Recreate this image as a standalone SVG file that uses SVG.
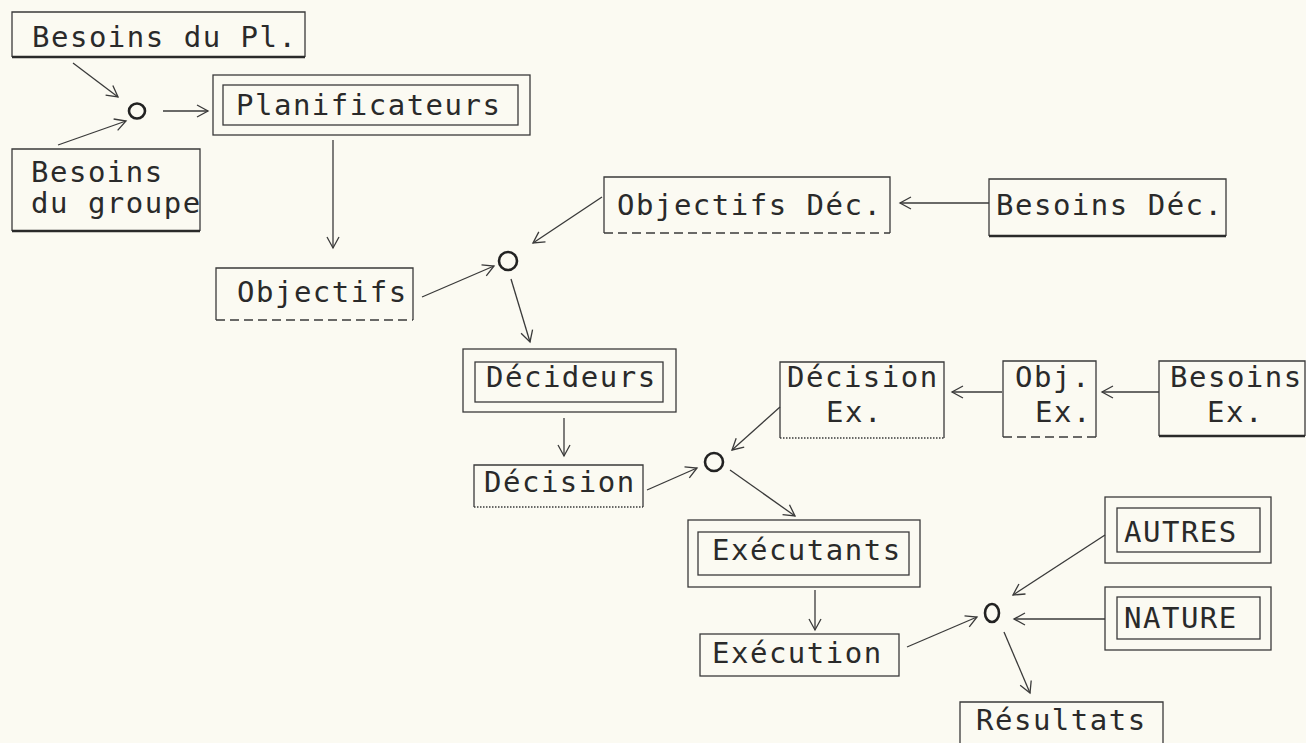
<svg xmlns="http://www.w3.org/2000/svg" width="1306" height="743" viewBox="0 0 1306 743">
<defs>
<style>
.bg{fill:#fbfaf2}
.b{fill:none;stroke:#3a3a3a;stroke-width:1.3}
.thick{fill:none;stroke:#2a2a2a;stroke-width:2.6}
.dash{fill:none;stroke:#3a3a3a;stroke-width:1.4;stroke-dasharray:9 5}
.dot{fill:none;stroke:#3a3a3a;stroke-width:1.6;stroke-dasharray:1.5 1.5}
.t{font-family:"DejaVu Sans Mono","Liberation Mono",monospace;font-size:29px;letter-spacing:1.5px;fill:#2a2a2a}
.c{fill:none;stroke:#222;stroke-width:2.6}
.a{fill:none;stroke:#3a3a3a;stroke-width:1.3;marker-end:url(#ah)}
</style>
<marker id="ah" markerUnits="userSpaceOnUse" markerWidth="14" markerHeight="14" refX="12" refY="7" orient="auto">
<path d="M1,1 L12,7 L1,13" fill="none" stroke="#3a3a3a" stroke-width="1.3"/>
</marker>
</defs>
<rect class="bg" x="0" y="0" width="1306" height="743"/>

<g id="connectors">
<line class="a" x1="73" y1="63" x2="118" y2="97"/>
<line class="a" x1="58" y1="145" x2="126" y2="121"/>
<line class="a" x1="163" y1="111" x2="208" y2="111"/>
<line class="a" x1="333" y1="140" x2="333" y2="248"/>
<line class="a" x1="422" y1="297" x2="494" y2="266"/>
<line class="a" x1="602" y1="197" x2="533" y2="243"/>
<line class="a" x1="989" y1="203" x2="900" y2="203"/>
<line class="a" x1="511" y1="279" x2="530" y2="342"/>
<line class="a" x1="564" y1="418" x2="564" y2="456"/>
<line class="a" x1="647" y1="490" x2="697" y2="468"/>
<line class="a" x1="780" y1="407" x2="732" y2="450"/>
<line class="a" x1="1002" y1="392" x2="952" y2="392"/>
<line class="a" x1="1159" y1="392" x2="1102" y2="392"/>
<line class="a" x1="730" y1="470" x2="795" y2="516"/>
<line class="a" x1="815" y1="590" x2="815" y2="630"/>
<line class="a" x1="907" y1="647" x2="977" y2="617"/>
<line class="a" x1="1105" y1="535" x2="1013" y2="595"/>
<line class="a" x1="1105" y1="619" x2="1014" y2="619"/>
<line class="a" x1="1004" y1="632" x2="1030" y2="693"/>
</g>

<g id="j1"><ellipse class="c" cx="137" cy="111" rx="8" ry="7.5"/></g>
<g id="j2"><ellipse class="c" cx="508" cy="261" rx="9" ry="9"/></g>
<g id="j3"><ellipse class="c" cx="714" cy="462" rx="9" ry="9"/></g>
<g id="j4"><ellipse class="c" cx="992" cy="613" rx="7" ry="9"/></g>

<g id="besoins-pl">
<path class="b" d="M12,57 V12 H305 V57"/>
<line class="thick" x1="12" y1="57" x2="305" y2="57"/>
<text class="t" x="32" y="47">Besoins du Pl.</text>
</g>

<g id="besoins-groupe">
<path class="b" d="M12,231 V149 H200 V231"/>
<line class="thick" x1="12" y1="231" x2="200" y2="231"/>
<text class="t" x="31" y="182">Besoins</text>
<text class="t" x="31" y="213">du groupe</text>
</g>

<g id="planificateurs">
<rect class="b" x="213" y="75" width="317" height="60"/>
<rect class="b" x="223" y="85" width="295" height="40"/>
<text class="t" x="236" y="115">Planificateurs</text>
</g>

<g id="objectifs-dec">
<path class="b" d="M604,233 V177 H890 V233"/>
<line class="dash" x1="604" y1="233" x2="890" y2="233"/>
<text class="t" x="617" y="215">Objectifs Déc.</text>
</g>

<g id="besoins-dec">
<path class="b" d="M989,236 V179 H1226 V236"/>
<line class="thick" x1="989" y1="236" x2="1226" y2="236"/>
<text class="t" x="996" y="215">Besoins Déc.</text>
</g>

<g id="objectifs">
<path class="b" d="M216,320 V268 H413 V320"/>
<line class="dash" x1="216" y1="320" x2="413" y2="320"/>
<text class="t" x="237" y="302">Objectifs</text>
</g>

<g id="decideurs">
<rect class="b" x="463" y="349" width="213" height="63"/>
<rect class="b" x="475" y="362" width="188" height="40"/>
<text class="t" x="486" y="387">Décideurs</text>
</g>

<g id="decision">
<path class="b" d="M474,507 V465 H643 V507"/>
<line class="dot" x1="474" y1="507" x2="643" y2="507"/>
<text class="t" x="484" y="492">Décision</text>
</g>

<g id="decision-ex">
<path class="b" d="M780,438 V362 H944 V438"/>
<line class="dot" x1="780" y1="438" x2="944" y2="438"/>
<text class="t" x="787" y="387">Décision</text>
<text class="t" x="826" y="422">Ex.</text>
</g>

<g id="obj-ex">
<path class="b" d="M1003,437 V361 H1096 V437"/>
<line class="dash" x1="1003" y1="437" x2="1096" y2="437"/>
<text class="t" x="1015" y="387">Obj.</text>
<text class="t" x="1035" y="422">Ex.</text>
</g>

<g id="besoins-ex">
<path class="b" d="M1159,436 V361 H1305 V436"/>
<line class="thick" x1="1159" y1="436" x2="1305" y2="436"/>
<text class="t" x="1170" y="387">Besoins</text>
<text class="t" x="1207" y="422">Ex.</text>
</g>

<g id="executants">
<rect class="b" x="688" y="520" width="232" height="67"/>
<rect class="b" x="698" y="532" width="211" height="43"/>
<text class="t" x="712" y="560">Exécutants</text>
</g>

<g id="execution">
<rect class="b" x="700" y="634" width="199" height="42"/>
<text class="t" x="712" y="663">Exécution</text>
</g>

<g id="autres">
<rect class="b" x="1105" y="497" width="166" height="66"/>
<rect class="b" x="1117" y="508" width="143" height="44"/>
<text class="t" x="1124" y="542">AUTRES</text>
</g>

<g id="nature">
<rect class="b" x="1105" y="587" width="166" height="63"/>
<rect class="b" x="1117" y="597" width="143" height="42"/>
<text class="t" x="1124" y="628">NATURE</text>
</g>

<g id="resultats">
<path class="b" d="M960,750 V702 H1163 V750"/>
<text class="t" x="976" y="730">Résultats</text>
</g>
</svg>
